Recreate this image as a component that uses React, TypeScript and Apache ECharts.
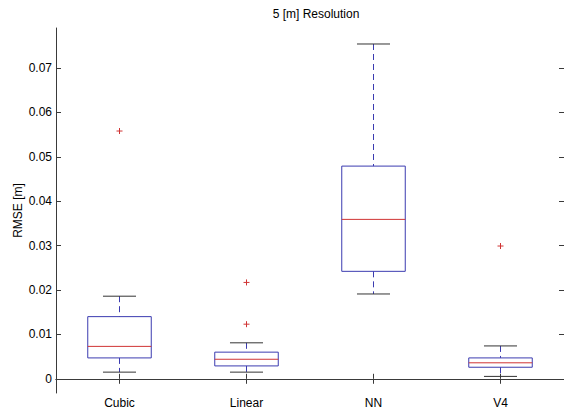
import React, { useEffect, useRef } from "react";
import * as echarts from "echarts";

const categories = ["Cubic", "Linear", "NN", "V4"];
const lowerWhisker = [0.0015, 0.0015, 0.0191, 0.00054];
const q1 = [0.0047, 0.0029, 0.0242, 0.0026];
const median = [0.0073, 0.0044, 0.0359, 0.0036];
const q3 = [0.014, 0.006, 0.0479, 0.0047];
const upperWhisker = [0.0186, 0.0081, 0.0754, 0.0074];
const outlierCategory = [0, 1, 1, 3];
const outlierValue = [0.0558, 0.0217, 0.0123, 0.0299];
const yTicks = [0, 0.01, 0.02, 0.03, 0.04, 0.05, 0.06, 0.07];

const FONT = "'Liberation Sans', Arial, Helvetica, sans-serif";
const AXIS = "#3a3a3a";
const BLUE = "#3b3bb0";
const RED = "#d03434";

export default function App() {
  const ref = useRef<HTMLDivElement>(null);
  useEffect(() => {
    if (!ref.current) return;
    const chart = echarts.init(ref.current, null, { renderer: "svg" });
    const boxData = categories.map((c, i) => [
      i,
      lowerWhisker[i],
      q1[i],
      median[i],
      q3[i],
      upperWhisker[i],
    ]);
    const outData = outlierCategory.map((c, i) => [c, outlierValue[i]]);
    const yMin = -0.0032;
    const yMax = 0.079;
    chart.setOption({
      animation: false,
      backgroundColor: "#ffffff",
      textStyle: { fontFamily: FONT },
      title: {
        text: "5 [m] Resolution",
        left: 311,
        textAlign: "center",
        top: 3,
        textStyle: { fontFamily: FONT, fontSize: 12, fontWeight: "normal", color: "#000" },
      },
      grid: { left: 56, right: -3, top: 28, bottom: 20 },
      xAxis: [
        {
          type: "category",
          data: categories,
          position: "bottom",
          boundaryGap: true,
          axisLine: { show: true, lineStyle: { color: AXIS, width: 1 } },
          axisTick: { show: true, inside: true, alignWithLabel: true, length: 5, lineStyle: { color: AXIS } },
          axisLabel: { color: "#000", fontSize: 12, fontFamily: FONT, margin: 4 },
          splitLine: { show: false },
        },
        {
          type: "category",
          data: categories,
          position: "top",
          boundaryGap: true,
          axisLine: { show: true, lineStyle: { color: AXIS, width: 1 } },
          axisTick: { show: true, inside: true, alignWithLabel: true, length: 5, lineStyle: { color: AXIS } },
          axisLabel: { show: false },
          splitLine: { show: false },
        },
      ],
      yAxis: [
        {
          type: "value",
          min: yMin,
          max: yMax,
          position: "left",
          name: "RMSE [m]",
          nameLocation: "middle",
          nameGap: 32,
          nameMoveOverlap: false,
          nameTextStyle: { color: "#000", fontSize: 12, fontFamily: FONT },
          axisLine: { show: true, lineStyle: { color: AXIS, width: 1 } },
          axisTick: { show: true, inside: true, length: 5, customValues: yTicks, lineStyle: { color: AXIS } },
          axisLabel: {
            color: "#000",
            fontSize: 12,
            fontFamily: FONT,
            margin: 4,
            customValues: yTicks,
            formatter: (v: number) => (Math.abs(v) < 1e-9 ? "0" : v.toFixed(2)),
          },
          splitLine: { show: false },
        },
        {
          type: "value",
          min: yMin,
          max: yMax,
          position: "right",
          axisLine: { show: true, lineStyle: { color: AXIS, width: 1 } },
          axisTick: { show: true, inside: true, length: 5, customValues: yTicks, lineStyle: { color: AXIS } },
          axisLabel: { show: false },
          splitLine: { show: false },
        },
      ],
      series: [
        {
          type: "custom",
          xAxisIndex: 0,
          yAxisIndex: 0,
          data: boxData,
          renderItem: (params: any, api: any) => {
            const idx = api.value(0);
            const pLo = api.coord([idx, api.value(1)]);
            const pQ1 = api.coord([idx, api.value(2)]);
            const pMed = api.coord([idx, api.value(3)]);
            const pQ3 = api.coord([idx, api.value(4)]);
            const pHi = api.coord([idx, api.value(5)]);
            const band = api.size([1, 0])[0];
            const hb = band * 0.25;
            const hc = band * 0.13;
            const x = pMed[0];
            return {
              type: "group",
              children: [
                {
                  type: "line",
                  shape: { x1: x, y1: pHi[1], x2: x, y2: pQ3[1] },
                  style: { stroke: BLUE, lineWidth: 1, lineDash: [6, 4] },
                },
                {
                  type: "line",
                  shape: { x1: x, y1: pQ1[1], x2: x, y2: pLo[1] },
                  style: { stroke: BLUE, lineWidth: 1, lineDash: [6, 4] },
                },
                {
                  type: "line",
                  shape: { x1: x - hc, y1: pHi[1], x2: x + hc, y2: pHi[1] },
                  style: { stroke: "#333", lineWidth: 1 },
                },
                {
                  type: "line",
                  shape: { x1: x - hc, y1: pLo[1], x2: x + hc, y2: pLo[1] },
                  style: { stroke: "#333", lineWidth: 1 },
                },
                {
                  type: "rect",
                  shape: { x: x - hb, y: pQ3[1], width: 2 * hb, height: pQ1[1] - pQ3[1] },
                  style: { fill: "none", stroke: BLUE, lineWidth: 1 },
                },
                {
                  type: "line",
                  shape: { x1: x - hb, y1: pMed[1], x2: x + hb, y2: pMed[1] },
                  style: { stroke: RED, lineWidth: 1 },
                },
              ],
            };
          },
        },
        {
          type: "custom",
          xAxisIndex: 0,
          yAxisIndex: 0,
          data: outData,
          renderItem: (params: any, api: any) => {
            const p = api.coord([api.value(0), api.value(1)]);
            const s = 3;
            return {
              type: "group",
              children: [
                {
                  type: "line",
                  shape: { x1: p[0] - s, y1: p[1], x2: p[0] + s, y2: p[1] },
                  style: { stroke: RED, lineWidth: 1 },
                },
                {
                  type: "line",
                  shape: { x1: p[0], y1: p[1] - s, x2: p[0], y2: p[1] + s },
                  style: { stroke: RED, lineWidth: 1 },
                },
              ],
            };
          },
        },
      ],
    });
    return () => chart.dispose();
  }, []);
  return (
    <div
      ref={ref}
      style={{ position: "absolute", left: 0, top: 0, width: 564, height: 413, background: "#fff" }}
    />
  );
}
